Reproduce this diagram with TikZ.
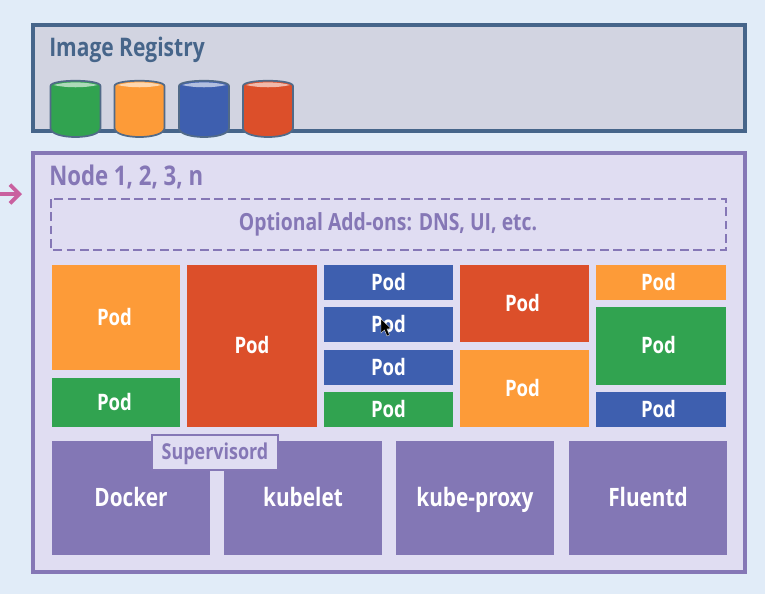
\documentclass[tikz,border=0pt]{standalone}
\usepackage{fontspec}
\setmainfont[FakeStretch=0.82]{Open Sans}
\usetikzlibrary{arrows.meta}
\definecolor{bgc}{HTML}{E1ECF8}
\definecolor{regfill}{HTML}{D2D4E1}
\definecolor{regline}{HTML}{46658A}
\definecolor{nodefill}{HTML}{E0DDF2}
\definecolor{nodeline}{HTML}{8577B6}
\definecolor{podorange}{HTML}{FD9B38}
\definecolor{podgreen}{HTML}{31A350}
\definecolor{podred}{HTML}{DC4F2A}
\definecolor{podblue}{HTML}{3E5FAF}
\definecolor{svc}{HTML}{8377B5}
\definecolor{pinkarrow}{HTML}{C9609F}
\tikzset{
  title/.style={anchor=base west,inner sep=0pt,font=\bfseries\fontsize{#1}{20}\selectfont},
  podtext/.style={anchor=base,text=white,font=\bfseries\fontsize{17}{18}\selectfont,inner sep=0pt},
  svctext/.style={anchor=base,text=white,font=\bfseries\fontsize{19}{20}\selectfont,inner sep=0pt},
  cyl/.style={draw=regline!80!gray,line width=1.3pt}
}
% colour, x0, y0, x1, y1, name, horizontal text offset
\newcommand{\podbox}[7]{%
  \fill[#1] (#2,#3) rectangle (#4,#5);
  \node[podtext] (#6) at ({(#2+#4)/2+#7},{(#3+#5)/2+7.5}) {Pod};}
\newcommand{\svcbox}[6]{%
  \fill[svc] (#1,#2) rectangle (#3,#4);
  \node[svctext] (#6) at ({(#1+#3)/2},#2+65) {#5};}
\newcommand{\cylinder}[2]{%
  \draw[cyl,fill=#2] (#1-25,86) -- (#1-25,128) .. controls (#1-25,140) and (#1+25,140) .. (#1+25,128) -- (#1+25,86)
     .. controls (#1+25,79) and (#1-25,79) .. (#1-25,86) -- cycle;
  \fill[#2!40!white] (#1-22,85) .. controls (#1-10,81.5) and (#1+10,81.5) .. (#1+22,85)
     .. controls (#1+10,88) and (#1-10,88) .. (#1-22,85) -- cycle;}
\begin{document}
\begin{tikzpicture}[x=0.75pt,y=-0.75pt]
\useasboundingbox (0,0) rectangle (765,594);
\fill[bgc] (0,0) rectangle (765,594);
% Image registry
\draw[regline,line width=3.4pt,fill=regfill] (33,25) rectangle (745,131);
\node[title=19.2,text=regline] (regtitle) at (49,56) {Image Registry};
\cylinder{75.5}{podgreen}
\cylinder{139.5}{podorange}
\cylinder{204}{podblue}
\cylinder{268}{podred}
% Node
\draw[nodeline,line width=3.2pt,fill=nodefill] (33,153) rectangle (745,572);
\node[title=20.3,text=nodeline] (nodetitle) at (49,185.5) {Node 1, 2, 3, n};
\coordinate (arrowstart) at (0,194);
\coordinate (arrowend) at (22,194);
\draw[pinkarrow,line width=2.8pt,-{Straight Barb[length=7pt,width=14pt]}] (arrowstart) -- (arrowend);
\draw[nodeline,line width=1.9pt,dash pattern=on 6.5pt off 3.5pt] (51,199) rectangle (726,250);
\node[anchor=base,text=nodeline,inner sep=0pt,font=\bfseries\fontsize{17.7}{18}\selectfont] (addons) at (388,230.5) {Optional Add-ons: DNS, UI, etc.};
% Pods
\podbox{podorange}{52}{265}{180}{370}{p1}{-1.5}
\podbox{podgreen}{52}{378}{180}{427}{p2}{-1.5}
\podbox{podred}{187}{265}{317}{427}{p3}{0}
\podbox{podblue}{324}{265}{453}{300}{p4}{0}
\podbox{podblue}{324}{307}{453}{342}{p5}{0}
\podbox{podblue}{324}{350}{453}{385}{p6}{0}
\podbox{podgreen}{324}{392}{453}{427}{p7}{0}
\podbox{podred}{460}{265}{589}{342}{p8}{-2}
\podbox{podorange}{460}{350}{589}{427}{p9}{-2}
\podbox{podorange}{596}{265}{726}{300}{p10}{-2.5}
\podbox{podgreen}{596}{307}{726}{385}{p11}{-2.5}
\podbox{podblue}{596}{392}{726}{427}{p12}{-2.5}
% cursor
\fill[black,draw=white!70!gray,line width=0.3pt] (381,319) -- (381,333) -- (384.5,330) -- (387,336) -- (389.5,335) -- (387,329) -- (391,328.5) -- cycle;
% Services
\svcbox{52}{441}{210}{555}{Docker}{s1}
\svcbox{224}{441}{382}{555}{kubelet}{s2}
\svcbox{396}{441}{554}{555}{kube-proxy}{s3}
\svcbox{569}{441}{727}{555}{Fluentd}{s4}
\draw[nodeline,line width=1.6pt,fill=nodefill] (152,435) rectangle (278,470);
\node[anchor=base,text=nodeline,inner sep=0pt,font=\bfseries\fontsize{16.4}{17}\selectfont] (sup) at (215,459) {Supervisord};
\end{tikzpicture}
\end{document}
